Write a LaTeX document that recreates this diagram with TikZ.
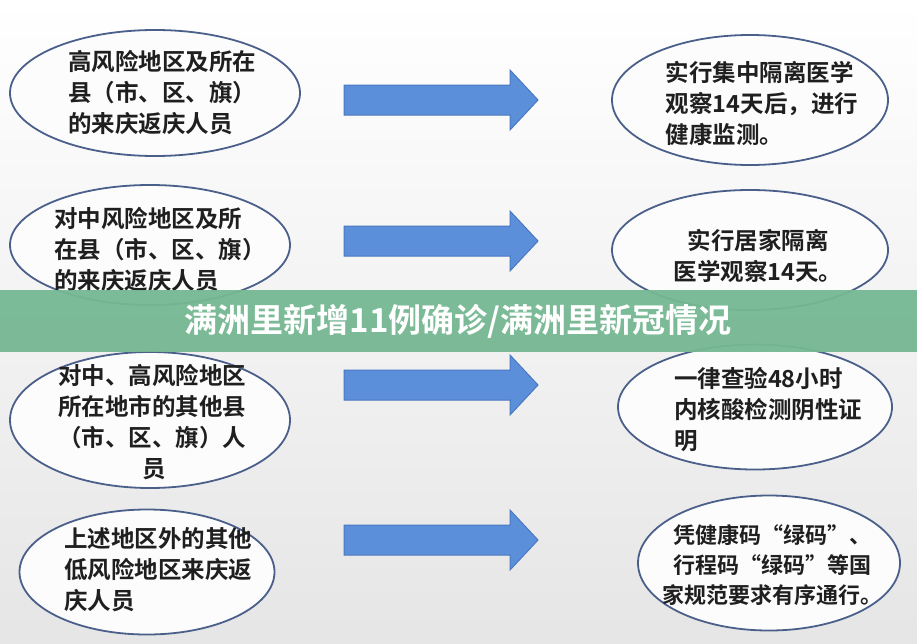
\documentclass[tikz,border=0pt]{standalone}
\usepackage{fontspec}
\setmainfont{Noto Sans CJK SC}[BoldFont={* Bold}]
\usetikzlibrary{shapes.geometric}
\definecolor{ringblue}{HTML}{4A5F8A}
\definecolor{arrowfill}{HTML}{5B8FDA}
\definecolor{arrowline}{HTML}{4A78C0}
\definecolor{bannergreen}{HTML}{76B893}
\tikzset{
  ring/.style={ellipse, draw=ringblue, line width=1.8pt, fill=white!60!gray!5, inner sep=0pt},
  say/.style={align=left, font=\fontsize{23.5}{31}\selectfont\bfseries, text=black!88},
}
\newcommand{\blockarrow}[1]{%
  \draw[arrowline, fill=arrowfill, line width=1pt] (344,#1-15) -- (510,#1-15) -- (510,#1-30) -- (538,#1)
    -- (510,#1+30) -- (510,#1+15) -- (344,#1+15) -- cycle;}

\begin{document}
\begin{tikzpicture}[x=1pt,y=-1pt]
\shade[top color=white, bottom color=black!10] (0,0) rectangle (917,643);
\useasboundingbox (0,0) rectangle (917,643);

% left column
\node[ring, minimum width=290, minimum height=126] (l1) at (155,93) {};
\node[say] (t1) at (162,93) {高风险地区及所在\\县（市、区、旗）\\的来庆返庆人员};
\node[ring, minimum width=280, minimum height=120] (l2) at (150,245) {};
\node[say] (t2) at (160,250) {对中风险地区及所\\在县（市、区、旗）\\的来庆返庆人员};
\node[ring, minimum width=280, minimum height=136] (l3) at (150,420) {};
\node[say] (t3) at (152,422) {对中、高风险地区\\所在地市的其他县\\（市、区、旗）人\\\hspace*{3.6em}员};
\node[ring, minimum width=255, minimum height=125] (l4) at (147,572) {};
\node[say] (t4) at (158,570) {上述地区外的其他\\低风险地区来庆返\\庆人员};

% right column
\node[ring, minimum width=276, minimum height=130] (r1) at (750,100) {};
\node[say] (u1) at (762,103) {实行集中隔离医学\\观察14天后，进行\\健康监测。};
\node[ring, minimum width=276, minimum height=120] (r2) at (750,250) {};
\node[say, align=center] (u2) at (758,256) {实行居家隔离\\医学观察14天。};
\node[ring, minimum width=274, minimum height=125] (r3) at (755,407) {};
\node[say] (u3) at (768,410) {一律查验48小时\\内核酸检测阴性证\\明};
\node[ring, minimum width=262, minimum height=135] (r4) at (769,563) {};
\node[say, align=center, font=\fontsize{22}{30}\selectfont\bfseries] (u4) at (772,565) {凭健康码“绿码”、\\行程码“绿码”等国\\家规范要求有序通行。};

% arrows
\blockarrow{100}
\blockarrow{241}
\blockarrow{385}
\blockarrow{540}

% banner
\fill[bannergreen, opacity=0.95] (0,290) rectangle (917,352);
\node[font=\fontsize{33}{36}\selectfont\bfseries, text=white] (title) at (458,321) {满洲里新增11例确诊/满洲里新冠情况};
\end{tikzpicture}
\end{document}
